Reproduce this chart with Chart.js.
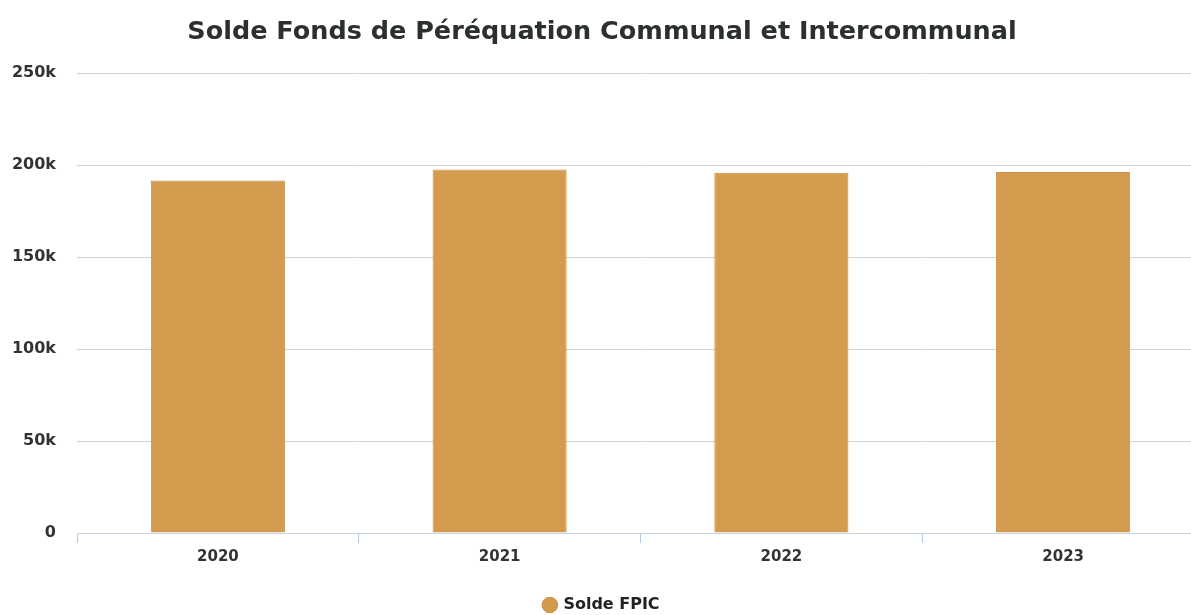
<!DOCTYPE html>
<html>
<head>
<meta charset="utf-8">
<script src="https://cdn.jsdelivr.net/npm/chart.js@4"></script>
<style>
	html, body { margin: 0; padding: 0; background: #fff; overflow: hidden; }
	#wrap { width: 1204px; height: 623px; position: relative; }
</style>
</head>
<body>
<div id="wrap"><canvas id="myChart"></canvas></div>
<script>
const years = ['2020', '2021', '2022', '2023'];
const soldeFpic = [191600, 197600, 195800, 196300];
const seriesName = 'Solde FPIC';
const chartTitle = 'Solde Fonds de Péréquation Communal et Intercommunal';

document.addEventListener('DOMContentLoaded', function () {
	const ctx = document.getElementById('myChart').getContext('2d');

	new Chart(ctx, {
		type: 'bar',
		data: {
			labels: years,
			datasets: [
				{
					label: seriesName,
					data: soldeFpic,
					backgroundColor: '#d49a4e',
					borderColor: '#c98e45',
					borderWidth: 1,
					categoryPercentage: 1,
					barPercentage: 0.476,
				},
			],
		},
		options: {
			responsive: true,
			maintainAspectRatio: false,
			animation: false,
			layout: {
				padding: { left: 0, right: 0, top: 17, bottom: 0 }
			},
			plugins: {
				title: {
					display: true,
					text: chartTitle,
					color: '#2b2f2e',
					font: { family: 'DejaVu Sans', size: 25.5, weight: 'bold' },
					padding: { top: 0, bottom: 25.5 }
				},
				legend: {
					position: 'bottom',
					labels: {
						usePointStyle: true,
						pointStyle: 'circle',
						boxWidth: 11,
						boxHeight: 11,
						color: '#222',
						font: { family: 'DejaVu Sans', size: 16, weight: 'bold' },
						padding: 0
					}
				},
				tooltip: { enabled: false }
			},
			scales: {
				x: {
					border: { display: true, color: '#c5d2e8', width: 1 },
					grid: {
						display: true,
						drawOnChartArea: false,
						drawTicks: true,
						tickLength: 10,
						color: '#b9c9e2',
						offset: true
					},
					afterFit: function (scale) { scale.height = 64; },
					ticks: {
						color: '#333',
						font: { family: 'DejaVu Sans', size: 15, weight: 'bold' },
						padding: 5
					}
				},
				y: {
					min: 0,
					max: 250000,
					border: { display: false },
					grid: { color: '#d2d2d2', drawTicks: false },
					afterFit: function (scale) { scale.width = 77; },
					ticks: {
						stepSize: 50000,
						color: '#333',
						font: { family: 'DejaVu Sans', size: 16, weight: 'bold' },
						padding: 21,
						callback: function (v) { return v === 0 ? '0' : (v / 1000) + 'k'; }
					}
				}
			}
		}
	});
});
</script>
</body>
</html>
